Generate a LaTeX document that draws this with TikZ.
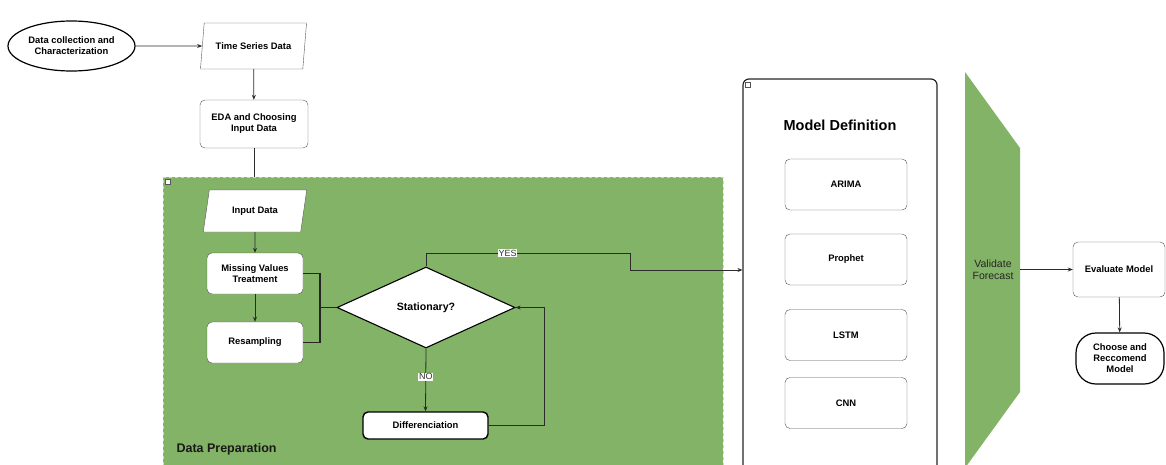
\documentclass[tikz,border=0pt]{standalone}
\usepackage{fontspec}
\setmainfont{Liberation Sans}
\usetikzlibrary{
  shapes.geometric,
  arrows.meta
}
\definecolor{prepgreen}{HTML}{82B366}
\definecolor{linegray}{HTML}{2B2B2B}
\definecolor{boxgray}{HTML}{555555}
\tikzset{box/.style={
  draw=boxgray,
  rounded corners=5pt,
  fill=white,
  align=center,
  font=\bfseries\fontsize{9.4}{11}\selectfont
}}
\tikzset{io/.style={
  trapezium,
  trapezium left angle=77,
  trapezium right angle=103,
  trapezium stretches=true,
  draw=boxgray,
  fill=white,
  font=\bfseries\fontsize{9.4}{11}\selectfont
}}
\tikzset{conn/.style={
  draw=linegray,
  line width=0.8pt,
  -{Stealth[length=5pt,width=4pt]}
}}
\tikzset{tag/.style={
  fill=white,
  inner sep=0.6pt,
  text=black!80,
  font=\fontsize{9}{10}\selectfont
}}
\tikzset{icon/.style={
  draw=boxgray,
  fill=white,
  inner sep=0pt,
  minimum size=5pt
}}

\begin{document}
\begin{tikzpicture}[x=1pt,y=-1pt]
  \useasboundingbox (0,0) rectangle (1166,464);

  % containers
  \node [fill=prepgreen, draw=white!55!prepgreen, dashed, minimum width=560pt,
         minimum height=293pt, inner sep=0pt] (prep) at (443,323.5) {};
  \node [icon] (prepicon) at (168,182) {};
  \node [anchor=west, font=\bfseries\fontsize{12.5}{14}\selectfont, text=black!90]
        (preplabel) at (173,449) {Data Preparation};
  \node [draw=black!85, line width=1.2pt, rounded corners=6pt, fill=white,
         minimum width=194pt, minimum height=401pt, inner sep=0pt] (model) at (840,279.5) {};
  \node [icon] (modelicon) at (748,85) {};
  \node [font=\bfseries\fontsize{14.5}{17}\selectfont] (modeltitle) at (840,125) {Model Definition};

  % top of the flow
  \node [ellipse, draw=black, line width=1.2pt, fill=white, minimum width=127pt,
         minimum height=50pt, inner sep=0pt, align=center,
         font=\bfseries\fontsize{9.4}{11}\selectfont] (collect) at (71.5,46)
        {Data collection and\\Characterization};
  \node [io, minimum width=107pt, minimum height=46pt] (series) at (253.5,46) {Time Series Data};
  \node [box, minimum width=108pt, minimum height=48pt] (eda) at (254,124) {EDA and Choosing\\Input Data};

  % data preparation
  \node [io, minimum width=104pt, minimum height=42pt] (input) at (255,211) {Input Data};
  \node [box, minimum width=96pt, minimum height=41pt] (missing) at (255,273.5) {Missing Values\\Treatment};
  \node [box, minimum width=96pt, minimum height=41pt] (resamp) at (255,342.5) {Resampling};
  \node [diamond, aspect=2.2, draw=black, line width=1.1pt, fill=white,
         minimum width=178pt, minimum height=81pt, inner sep=0pt,
         font=\bfseries\fontsize{10.6}{12}\selectfont] (stat) at (426,307.5) {Stationary?};
  \node [box, draw=black, line width=1.4pt, minimum width=125pt, minimum height=27pt]
        (diff) at (425.5,425.5) {Differenciation};
  \coordinate (join) at (320,307.5);
  \coordinate (yestop) at (630,253);
  \coordinate (yesbend) at (630,270);
  \coordinate (loop) at (544,307.5);

  % models
  \node [box, minimum width=122pt, minimum height=51pt] (arima) at (846,184.5) {ARIMA};
  \node [box, minimum width=122pt, minimum height=51pt] (prophet) at (846,259.5) {Prophet};
  \node [box, minimum width=122pt, minimum height=51pt] (lstm) at (846,335) {LSTM};
  \node [box, minimum width=122pt, minimum height=51pt] (cnn) at (846,403) {CNN};

  % validation and choice
  \fill [prepgreen] (965,72) -- (1020,148) -- (1020,392) -- (965,468) -- cycle;
  \node [align=center, font=\fontsize{10.5}{12.5}\selectfont, text=black!85] (valid) at (993,269.5)
        {Validate\\Forecast};
  \coordinate (validout) at (1020,269.5);
  \node [box, minimum width=92pt, minimum height=55pt] (evalm) at (1119,269.5) {Evaluate Model};
  \node [box, draw=black, line width=1.2pt, rounded corners=20pt, minimum width=88pt,
         minimum height=51pt] (choose) at (1120,358.5) {Choose and\\Reccomend\\Model};

  % connectors
  \draw [conn] (collect) -- (series);
  \draw [conn] (series) -- (eda);
  \draw [draw=linegray, line width=0.8pt] (eda.south) -- (eda.south |- prep.north);
  \draw [conn] (input) -- (missing);
  \draw [conn] (missing) -- (resamp);
  \draw [line width=1.8pt, black!85] (missing.east) -| (join) |- (resamp.east);
  \draw [line width=1.8pt, black!85] (join) -- (stat.west);
  \draw [conn] (stat.south) -- (diff.north) node [tag, pos=0.45] {NO};
  \draw [conn] (diff.east) -| (loop) -- (stat.east);
  \draw [conn] (stat.north) |- (yestop) node [tag, pos=0.7] {YES}
        -- (yesbend) -- (yesbend -| model.west);
  \draw [conn] (validout) -- (evalm);
  \draw [conn] (evalm) -- (choose);
\end{tikzpicture}
\end{document}
